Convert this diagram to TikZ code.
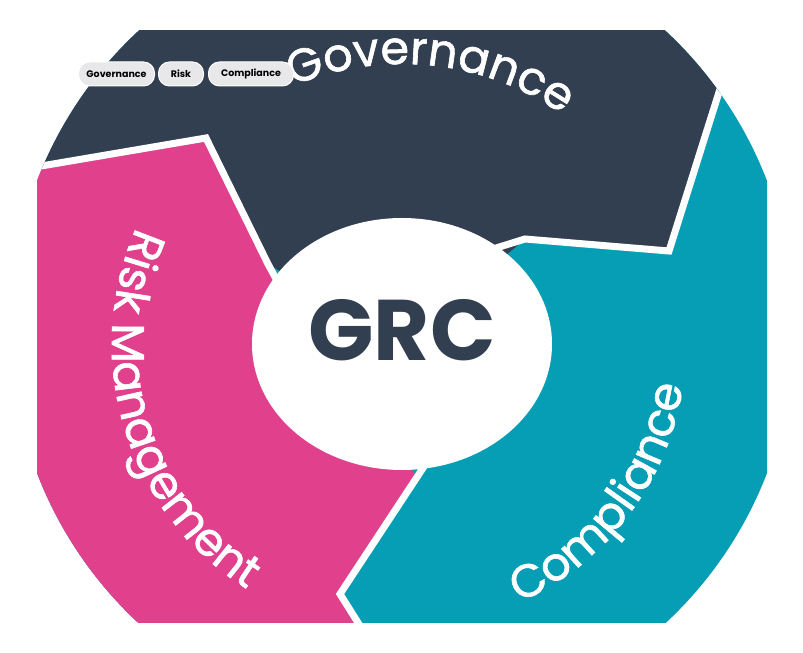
\documentclass[tikz,border=0pt]{standalone}
\usepackage{fontspec}
\setmainfont{Poppins}
\newfontfamily\arcfont{Poppins}[FakeBold=1.3]
\usetikzlibrary{decorations.text}
\definecolor{gov}{HTML}{323F50}
\definecolor{risk}{HTML}{E0408C}
\definecolor{comp}{HTML}{069EB5}
\definecolor{pill}{HTML}{E8E8EA}
\tikzset{
  sep/.style={white,line width=7pt,line join=miter},
  pilltag/.style={fill=pill,draw=white,line width=1pt,rounded corners=11pt,minimum height=24pt,inner xsep=8pt,font=\bfseries\fontsize{9.5}{10}\selectfont,text=black},
  arctext/.style={decorate,decoration={text along path,text align=center,text={|\arcfont\fontsize{46}{46}\selectfont\color{white}|#1}}}
}
\begin{document}
\begin{tikzpicture}[x=1pt,y=1pt]
\useasboundingbox (0,0) rectangle (803,653);
\begin{scope}
\clip (37,30) rectangle (767,622);
\clip (402,326) ellipse [x radius=392, y radius=400];
\fill[comp] (0,0) rectangle (803,653);
\fill[risk] (0,480) -- (206,515) -- (268,389) -- (417,176) -- (340,59) -- (377,0) -- (0,0) -- cycle;
\fill[gov] (0,653) -- (748,653) -- (669,402) -- (525,414) -- (402,309) -- (268,389) -- (206,515) -- (0,480) -- cycle;
\draw[sep] (0,480) -- (206,515) -- (268,389) -- (300,330);
\draw[sep] (748,653) -- (669,402) -- (525,414) -- (480,400);
\draw[sep] (450,226) -- (340,59) -- (377,0);
\end{scope}
\fill[white] (402,309) ellipse [x radius=150, y radius=126];
\node[text=gov,font=\bfseries\fontsize{86}{86}\selectfont] (grc) at (402,323) {GRC};
\path[arctext=Governance] (402,309) ++(114:280) arc[start angle=114,end angle=54,radius=280];
\path[arctext=Risk Management] (402,309) ++(144:290) arc[start angle=144,end angle=250,radius=290];
\path[arctext=Compliance] (402,309) ++(-70:284) arc[start angle=-70,end angle=-4,radius=284];
\node[pilltag,minimum width=74pt] (pg) at (116.5,579) {Governance};
\node[pilltag,minimum width=45pt] (pr) at (181,579) {Risk};
\node[pilltag,minimum width=85pt] (pc) at (251,579) {Compliance};
\end{tikzpicture}
\end{document}
